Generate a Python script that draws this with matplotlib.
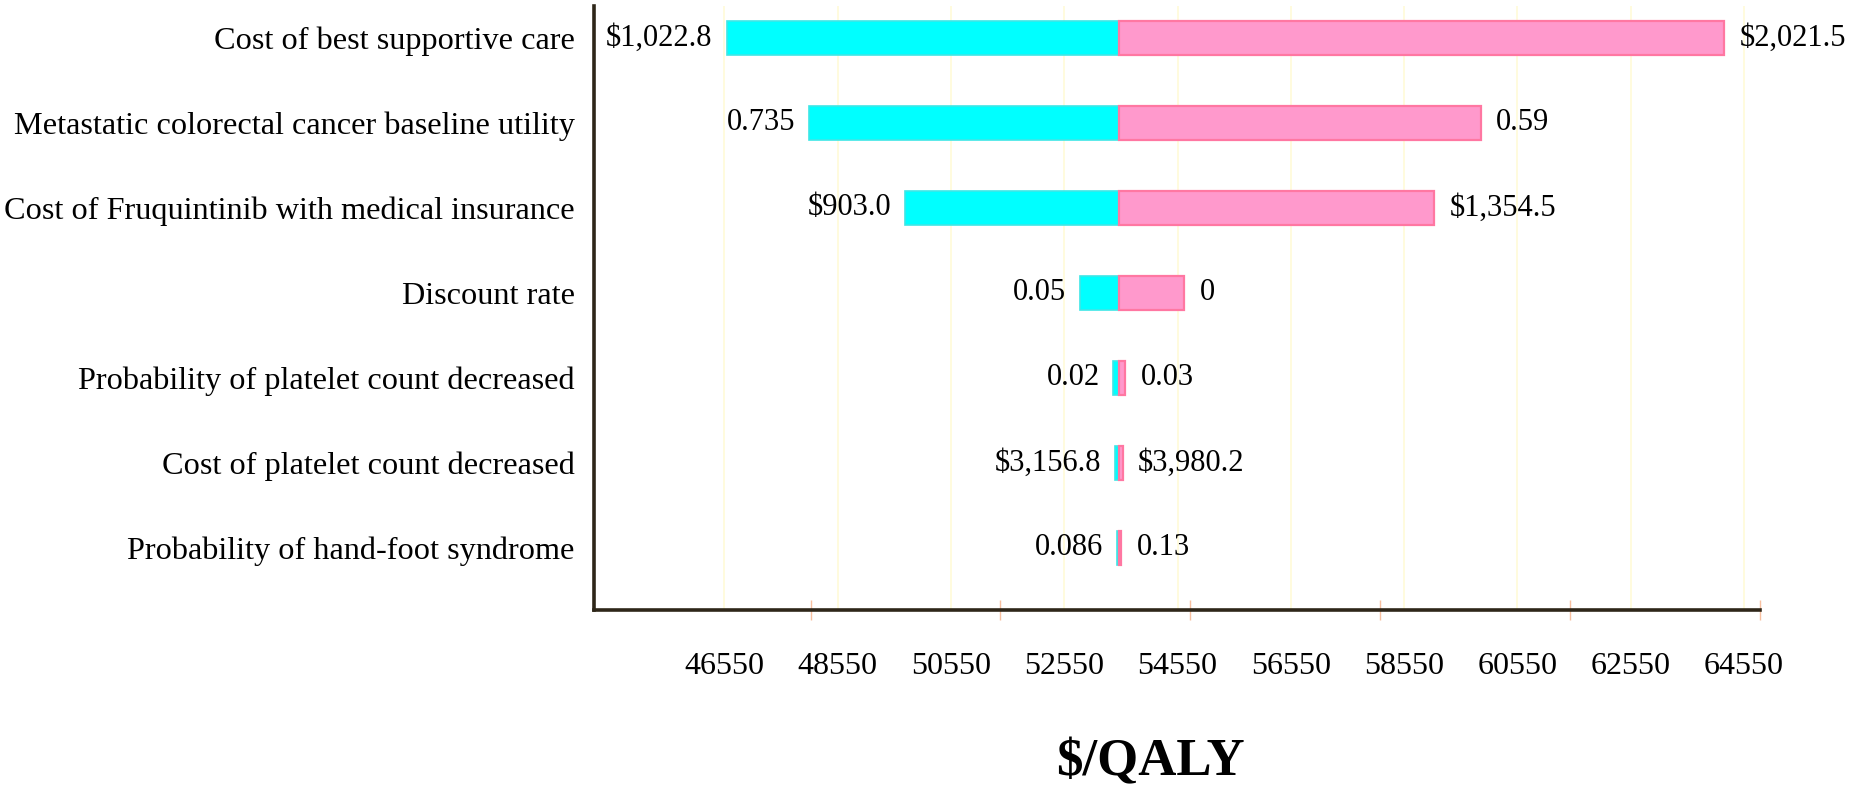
import numpy as np
import matplotlib.pyplot as plt

plt.rcParams['font.family'] = ['Liberation Serif', 'DejaVu Serif']

# Parâmetros do diagrama de tornado
parametros = [
    "Cost of best supportive care",
    "Metastatic colorectal cancer baseline utility",
    "Cost of Fruquintinib with medical insurance",
    "Discount rate",
    "Probability of platelet count decreased",
    "Cost of platelet count decreased",
    "Probability of hand-foot syndrome",
]
icer_base = 53520
icer_baixo = [46590, 48050, 49740, 52820, 53420, 53450, 53490]
icer_alto = [64200, 59900, 59080, 54670, 53630, 53580, 53560]
rotulo_baixo = ["$1,022.8", "0.735", "$903.0", "0.05", "0.02", "$3,156.8", "0.086"]
rotulo_alto = ["$2,021.5", "0.59", "$1,354.5", "0", "0.03", "$3,980.2", "0.13"]

ticks_x = np.arange(46550, 64551, 2000)
marcas_x = [48072, 51424, 54776, 58128, 61480, 64832]

fig = plt.figure(figsize=(18.5, 7.91), dpi=100)
ax = fig.add_axes([594/1850, 1 - 610/791, (1760 - 594)/1850, (610 - 6)/791])

y = np.arange(len(parametros))
baixo = np.array(icer_baixo) - icer_base
alto = np.array(icer_alto) - icer_base

ax.barh(y, baixo, left=icer_base, height=0.39, color='#00ffff',
        edgecolor='#3ee6e6', linewidth=1.2, zorder=3)
ax.barh(y, alto, left=icer_base, height=0.39, color='#ff99cc',
        edgecolor='#ff77a2', linewidth=1.6, zorder=3)

for i in range(len(parametros)):
    ax.annotate(rotulo_baixo[i], xy=(icer_baixo[i], y[i]), xytext=(-10, 0),
                textcoords='offset points', ha='right', va='center', fontsize=22)
    ax.annotate(rotulo_alto[i], xy=(icer_alto[i], y[i]), xytext=(11, 0),
                textcoords='offset points', ha='left', va='center', fontsize=22)

ax.set_xlim(44250, 64830)
ax.set_ylim(6.73, -0.376)

ax.set_yticks(y)
ax.set_yticklabels(parametros, fontsize=23.2)
ax.tick_params(axis='y', length=0, pad=14)

ax.set_xticks(ticks_x)
ax.set_xticklabels([str(t) for t in ticks_x], fontsize=23)
ax.tick_params(axis='x', which='major', length=0, pad=30)
ax.set_xticks(marcas_x, minor=True)
ax.tick_params(axis='x', which='minor', length=14, width=1, color='#f8c0a0', direction='inout')

ax.grid(axis='x', which='major', color='#fffbd8', linewidth=1.2, zorder=0)
ax.set_axisbelow(True)

for lado in ['top', 'right']:
    ax.spines[lado].set_visible(False)
for lado in ['left', 'bottom']:
    ax.spines[lado].set_color('#2e2619')
    ax.spines[lado].set_linewidth(2.6)

fig.text(1150/1850, 1 - 762/791, "$/QALY", ha='center', va='center',
         fontsize=38, fontweight='bold')

fig.savefig("out.png", dpi=100)
plt.close()
